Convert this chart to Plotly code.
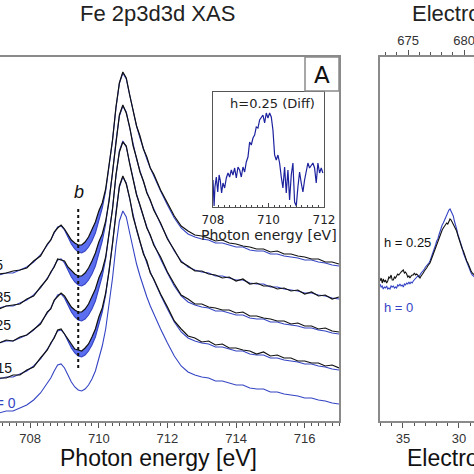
import plotly.graph_objects as go

# ---------------- data ----------------
energy = [707.1, 707.3, 707.5, 707.7, 707.9, 708.1, 708.3, 708.5,
          708.6, 708.7, 708.8, 708.9, 709.0, 709.1, 709.2, 709.3, 709.4, 709.5,
          709.6, 709.7, 709.8, 709.9, 710.0, 710.1, 710.2, 710.3, 710.4, 710.5,
          710.6, 710.7, 710.8, 710.9, 711.0, 711.1, 711.2, 711.3, 711.4, 711.5, 711.6,
          711.8, 712.0, 712.2, 712.4, 712.6, 712.8, 713.0, 713.2, 713.4, 713.6, 713.8,
          714.0, 714.2, 714.4, 714.6, 714.8, 715.0, 715.2, 715.4, 715.6, 715.8,
          716.0, 716.2, 716.4, 716.6, 716.8, 717.0]

xas_h0 = [8, 10, 10, 13, 16, 21, 28, 38,
          43, 50, 56, 57, 53, 46, 39, 34, 31, 30,
          32, 36, 42, 50, 62, 75, 92, 115, 143, 175,
          200, 210, 204, 188, 171, 157, 145, 134, 124, 115, 107,
          92, 78, 65, 55, 49, 46, 44, 43, 40, 40, 38,
          36, 36, 33, 32, 32, 29, 29, 27, 26, 25,
          23, 23, 21, 20, 18, 17]

xas_h015 = [9, 9, 12, 12, 17, 20, 29, 37,
            44, 49, 57, 58, 53, 48, 43, 38, 37, 36,
            39, 43, 50, 58, 70, 79, 94, 116, 144, 176,
            201, 211, 203, 189, 170, 158, 146, 133, 126, 114, 108,
            93, 80, 66, 58, 51, 49, 45, 46, 42, 43, 39,
            39, 37, 36, 33, 35, 31, 32, 29, 29, 26,
            26, 24, 24, 21, 22, 19]

xas_h025 = [8, 11, 10, 14, 16, 22, 27, 39,
            42, 51, 55, 58, 55, 49, 44, 41, 39, 39,
            42, 47, 54, 62, 73, 81, 94, 116, 142, 176,
            199, 209, 205, 187, 172, 156, 146, 135, 123, 116, 106,
            94, 79, 67, 56, 52, 47, 47, 44, 43, 41, 41,
            38, 39, 35, 35, 33, 32, 30, 30, 27, 28,
            25, 25, 22, 23, 20, 19]

xas_h035 = [7, 10, 11, 12, 17, 20, 29, 37,
            44, 49, 57, 56, 55, 49, 45, 42, 40, 40,
            43, 48, 55, 63, 74, 82, 95, 115, 144, 174,
            201, 211, 203, 189, 170, 158, 144, 135, 123, 116, 106,
            93, 77, 66, 54, 50, 45, 45, 42, 41, 38, 39,
            35, 37, 32, 33, 30, 30, 27, 28, 25, 26,
            22, 24, 20, 21, 17, 19]

xas_h045 = [9, 10, 12, 13, 15, 22, 27, 39,
            43, 51, 55, 58, 54, 49, 43, 40, 38, 38,
            41, 46, 53, 61, 72, 80, 94, 117, 143, 176,
            200, 211, 205, 188, 172, 157, 147, 134, 126, 115, 109,
            93, 80, 67, 57, 52, 48, 47, 45, 42, 43, 40,
            39, 37, 36, 34, 34, 31, 32, 29, 29, 27,
            26, 24, 24, 21, 21, 19]

h_labels = ["h = 0.15", "h = 0.25", "h = 0.35", "h = 0.45"]
black_spectra = [xas_h015, xas_h025, xas_h035, xas_h045]

# inset: difference spectrum h = 0.25
diff_energy = [708.00, 708.04, 708.07, 708.12, 708.17, 708.22, 708.26, 708.31, 708.36, 708.42,
               708.48, 708.54, 708.60, 708.66, 708.72, 708.78, 708.84, 708.90, 708.96, 709.02,
               709.08, 709.14, 709.20, 709.26, 709.32, 709.38, 709.44, 709.50, 709.56, 709.62,
               709.68, 709.74, 709.80, 709.86, 709.92, 709.98, 710.04, 710.10, 710.16, 710.22,
               710.28, 710.34, 710.40, 710.46, 710.52, 710.58, 710.64, 710.70, 710.76, 710.82,
               710.88, 710.94, 711.00, 711.06, 711.12, 711.18, 711.24, 711.30, 711.36, 711.42,
               711.48, 711.54, 711.60, 711.66, 711.72, 711.78, 711.84, 711.90, 711.96]
diff_h025 = [10, -16, 3, 13, -2, 15, 10, -3, 7, 2,
             12, 17, 13, 20, 15, 22, 12, 23, 20, 13,
             23, 18, 28, 33, 48, 45, 52, 55, 63, 62,
             70, 72, 75, 67, 77, 72, 77, 73, 60, 35,
             30, 35, 27, 13, 2, 23, -3, 20, -10, 15,
             27, -12, -16, 3, 18, 7, -2, 10, 20, 27,
             22, 25, 27, 22, 7, 27, 17, 22, 17]

# right panel: electron spectra
binding = [37.05, 36.95, 36.85, 36.76, 36.66, 36.56, 36.46, 36.36, 36.26, 36.16,
           36.06, 35.96, 35.86, 35.76, 35.67, 35.57, 35.47, 35.37, 35.27, 35.17,
           35.07, 34.97, 34.87, 34.77, 34.67, 34.57, 34.47, 34.38, 34.28, 34.18,
           34.08, 33.98, 33.88, 33.78, 33.68, 33.58, 33.48, 33.38, 33.29, 33.19,
           33.09, 32.99, 32.89, 32.79, 32.69, 32.59, 32.49, 32.39, 32.29, 32.19,
           32.09, 31.99, 31.89, 31.79, 31.70, 31.60, 31.50, 31.40, 31.30, 31.20,
           31.10, 31.00, 30.90, 30.80, 30.70, 30.61, 30.51, 30.41, 30.31, 30.21,
           30.11, 30.01, 29.91, 29.81, 29.71, 29.61, 29.51, 29.41, 29.31, 29.21,
           29.12, 29.02, 28.92, 28.82, 28.72, 28.62, 28.52]
es_h025 = [140, 143, 138, 142, 139, 141, 138, 140, 144, 143,
           146, 141, 141, 144, 143, 145, 147, 146, 148, 149,
           150, 151, 148, 149, 147, 144, 145, 143, 145, 146,
           146, 148, 146, 147, 146, 144, 143, 145, 146, 148,
           150, 151, 153, 155, 156, 158, 161, 164, 167, 171,
           175, 177, 180, 183, 185, 188, 191, 193, 195, 197,
           198, 197, 200, 202, 201, 199, 198, 195, 193, 190,
           186, 182, 178, 174, 172, 170, 166, 163, 160, 158,
           155, 152, 150, 148, 147, 146, 145]
es_h0 = [137, 134, 135, 132, 134, 133, 135, 132, 133, 132,
         135, 134, 135, 133, 134, 133, 136, 135, 137, 135,
         136, 134, 137, 136, 138, 137, 139, 137, 139, 138,
         140, 141, 142, 143, 145, 144, 147, 148, 149, 150,
         152, 154, 155, 157, 158, 160, 163, 165, 168, 172,
         176, 180, 182, 186, 190, 192, 196, 198, 201, 204,
         207, 209, 211, 212, 210, 207, 205, 200, 197, 192,
         187, 184, 180, 176, 173, 168, 165, 161, 158, 155,
         153, 150, 148, 146, 145, 144, 143]

# ---------------- styling ----------------
W = H = 474
BLACK = "#111111"
BLUE = "#3444c4"
FILL = "#5b6ef0"
AXC = "#8a8a8a"
offsets = [34, 70, 105, 138]
FONT = "Liberation Sans, Arial, sans-serif"
DFONT = "DejaVu Sans, Verdana, sans-serif"


def px(xp):
    return xp / W


def py(yp):
    return 1 - yp / H


fig = go.Figure()

# bottom h = 0 spectrum
fig.add_trace(go.Scatter(x=energy, y=xas_h0, mode="lines",
                         line=dict(color=BLUE, width=1.1), xaxis="x", yaxis="y",
                         hoverinfo="skip", showlegend=False))

fill_i0, fill_i1 = energy.index(709.0), energy.index(710.3)
for spec, off in zip(black_spectra, offsets):
    seg_e = energy[fill_i0:fill_i1 + 1]
    top = [v + off for v in spec[fill_i0:fill_i1 + 1]]
    bot = [v + off for v in xas_h0[fill_i0:fill_i1 + 1]]
    fig.add_trace(go.Scatter(x=seg_e + seg_e[::-1], y=top + bot[::-1], mode="lines",
                             fill="toself", fillcolor=FILL, line=dict(width=0),
                             xaxis="x", yaxis="y", hoverinfo="skip", showlegend=False))
    fig.add_trace(go.Scatter(x=energy, y=[v + off for v in xas_h0], mode="lines",
                             line=dict(color=BLUE, width=1.1), xaxis="x", yaxis="y",
                             hoverinfo="skip", showlegend=False))
    fig.add_trace(go.Scatter(x=energy, y=[v + off for v in spec], mode="lines",
                             line=dict(color=BLACK, width=1.2), xaxis="x", yaxis="y",
                             hoverinfo="skip", showlegend=False))

# inset
fig.add_trace(go.Scatter(x=diff_energy, y=diff_h025, mode="lines",
                         line=dict(color="#1c229e", width=1.2), xaxis="x2", yaxis="y2",
                         hoverinfo="skip", showlegend=False))

# right panel
fig.add_trace(go.Scatter(x=binding, y=es_h0, mode="lines",
                         line=dict(color=BLUE, width=1.1), xaxis="x3", yaxis="y3",
                         hoverinfo="skip", showlegend=False))
fig.add_trace(go.Scatter(x=binding, y=es_h025, mode="lines",
                         line=dict(color=BLACK, width=1.1), xaxis="x3", yaxis="y3",
                         hoverinfo="skip", showlegend=False))
# dummy for top kinetic-energy axis
fig.add_trace(go.Scatter(x=[675], y=[-100], mode="markers", marker=dict(opacity=0),
                         xaxis="x4", yaxis="y3", hoverinfo="skip", showlegend=False))

ydom = [py(421), py(57)]
tickfont = dict(family=FONT, size=13, color="#333333")

fig.update_layout(
    width=W, height=H, margin=dict(l=0, r=0, t=0, b=0, pad=0, autoexpand=False),
    paper_bgcolor="white", plot_bgcolor="white",
    xaxis=dict(domain=[0, px(339)], range=[707.12, 717.0], anchor="y",
               showline=True, linecolor=AXC, linewidth=1.5, mirror=True,
               ticks="outside", ticklen=5, tickcolor="#555", tickwidth=1,
               tick0=708, dtick=2, tickfont=tickfont, showgrid=False, zeroline=False,
               minor=dict(dtick=0.2, ticks="outside", ticklen=3, tickcolor="#555")),
    yaxis=dict(domain=ydom, range=[0, 364], anchor="x", showline=True, linecolor=AXC,
               linewidth=1.5, mirror=True, showticklabels=False, ticks="",
               showgrid=False, zeroline=False),
    xaxis2=dict(domain=[px(213), px(324)], range=[708, 712], anchor="y2",
                showline=True, linecolor="#555", linewidth=1, mirror=True,
                ticks="inside", ticklen=4, tickcolor="#444", tick0=708, dtick=2,
                ticklabelstandoff=2,
                tickfont=dict(family=DFONT, size=12, color="#222"),
                showgrid=False, zeroline=False,
                minor=dict(dtick=0.2, ticks="inside", ticklen=2, tickcolor="#444")),
    yaxis2=dict(domain=[py(207), py(92)], range=[-17, 98], anchor="x2",
                showline=True, linecolor="#555", linewidth=1, mirror=True,
                showticklabels=False, ticks="", showgrid=False, zeroline=False),
    xaxis3=dict(domain=[px(380), 1.0], range=[37.05, 28.66], anchor="y3",
                showline=True, linecolor=AXC, linewidth=1.5,
                ticks="outside", ticklen=5, tickcolor="#555", tick0=0, dtick=5,
                tickfont=tickfont, showgrid=False, zeroline=False,
                ticklabeloverflow="allow",
                minor=dict(dtick=1, ticks="outside", ticklen=3, tickcolor="#555")),
    xaxis4=dict(range=[672.5, 680.89], overlaying="x3", anchor="y3", side="top",
                showline=True, linecolor=AXC, linewidth=1.5,
                ticks="outside", ticklen=5, tickcolor="#555", tick0=0, dtick=5,
                tickfont=tickfont, showgrid=False, zeroline=False,
                ticklabeloverflow="allow",
                minor=dict(dtick=1, ticks="outside", ticklen=3, tickcolor="#555")),
    yaxis3=dict(domain=ydom, range=[0, 364], anchor="x3", showline=True, linecolor=AXC,
                linewidth=1.5, showticklabels=False, ticks="",
                showgrid=False, zeroline=False),
)

# dotted line at b
fig.add_shape(type="line", xref="x", yref="y", x0=709.4, x1=709.4, y0=53, y1=215,
              line=dict(color="#111", width=2, dash="dot"))

# "A" box
fig.add_shape(type="rect", xref="paper", yref="paper", x0=px(305), x1=px(339),
              y0=py(91), y1=py(57), line=dict(color=AXC, width=1.5))

ann = []


def add_text(text, xp, yp, size, color="#111", xanchor="center", family=FONT):
    ann.append(dict(text=text, x=px(xp), y=py(yp), xref="paper", yref="paper",
                    xanchor=xanchor, yanchor="middle", showarrow=False,
                    font=dict(family=family, size=size, color=color)))


add_text("A", 322, 75, 23, family=DFONT)
add_text("h=0.25 (Diff)", 272, 103, 13, color="#222", family=DFONT)
add_text("Photon energy [eV]", 269, 235, 14, color="#222", family=DFONT)
add_text("<i>b</i>", 79, 192, 18)
add_text("Fe 2p3d3d XAS", 157, 14, 22, color="#222")
add_text("Electron spectra", 410, 14, 22, color="#222", xanchor="left")
add_text("Photon energy [eV]", 158, 458, 23, color="#111")
add_text("Electron binding energy [eV]", 405, 458, 23, color="#111", xanchor="left")
add_text("h = 0.25", 382, 243, 13, xanchor="left")
add_text("h = 0", 382, 307, 13, color=BLUE, xanchor="left")

label_pos = [(14, 368), (13, 325), (13, 297), (5, 265)]
for lab, (xr, yr) in zip(h_labels, label_pos):
    add_text(lab, xr, yr, 14, xanchor="right")
add_text("h = 0", 18, 403, 14, color=BLUE, xanchor="right")

fig.update_layout(annotations=ann)
fig.write_html("out.html",
               config={"displayModeBar": False},
               post_script="document.body.style.margin='0';"
                           "document.body.style.overflow='hidden';")
